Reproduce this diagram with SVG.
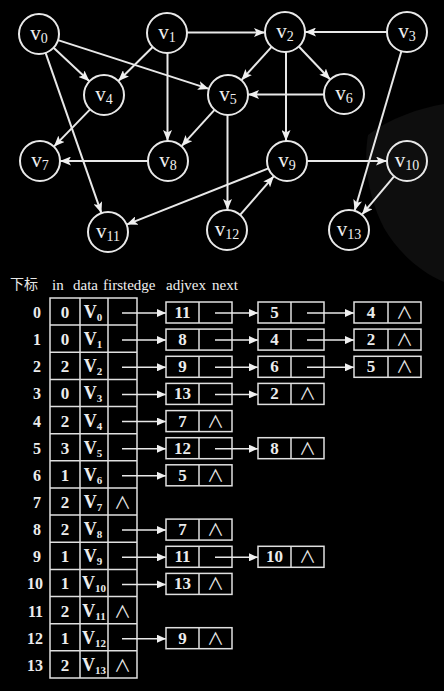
<svg xmlns="http://www.w3.org/2000/svg" width="444" height="691" viewBox="0 0 444 691">
<style>
  .bg{fill:#000}
  .nd{fill:none;stroke:#e8e8e8;stroke-width:2}
  .ed{stroke:#e8e8e8;stroke-width:2;fill:none;marker-end:url(#ah)}
  .lb{font-family:"Liberation Serif","Times New Roman",serif;font-size:21px;fill:#f0f0f0;text-anchor:middle}
  .sb{font-size:14px}
  .tx{font-family:"Liberation Serif","Times New Roman",serif;font-size:17px;font-weight:bold;fill:#ececec;text-anchor:middle}
  .ix{font-family:"Liberation Serif","Times New Roman",serif;font-size:16px;font-weight:bold;fill:#ececec;text-anchor:end}
  .hd{font-family:"Liberation Serif","Times New Roman",serif;font-size:15px;fill:#f0f0f0}
  .cj{font-family:"Noto Sans CJK SC","Liberation Serif",sans-serif;font-size:14px;fill:#e8e8e8}
  .vv{font-size:18px}
  .vs{font-size:11px}
  .nl{font-family:"Noto Sans CJK SC","DejaVu Sans",sans-serif;font-size:17px;fill:#e8e8e8;text-anchor:middle}
  .cell{fill:none;stroke:#e0e0e0;stroke-width:1.5}
  .ar{stroke:#e8e8e8;stroke-width:1.5;fill:none;marker-end:url(#ah2)}
</style>
<defs>
  <marker id="ah" markerUnits="userSpaceOnUse" markerWidth="11" markerHeight="9" refX="11" refY="4.5" orient="auto">
    <path d="M0,0 L11,4.5 L0,9 L2.5,4.5 Z" fill="#f0f0f0"/>
  </marker>
  <marker id="ah2" markerUnits="userSpaceOnUse" markerWidth="9" markerHeight="8" refX="9" refY="4" orient="auto">
    <path d="M0,0 L9,4 L0,8 Z" fill="#f0f0f0"/>
  </marker>
  <g id="null"><text class="nl" x="0" y="21">∧</text></g>
</defs>
<rect class="bg" x="0" y="0" width="444" height="691"/>
<path d="M368,135 C390,118 420,108 444,104 L444,282 C420,272 398,252 384,228 C372,205 362,170 368,135 Z" fill="#0e0e0e"/>

<g id="connectors">
  <line class="ed" x1="45.6" y1="52.9" x2="101.4" y2="213.1"/>
  <line class="ed" x1="58" y1="40.1" x2="209" y2="88.9"/>
  <line class="ed" x1="53.6" y1="47.7" x2="89.4" y2="81.3"/>
  <line class="ed" x1="167.5" y1="53" x2="167.5" y2="141"/>
  <line class="ed" x1="152.7" y1="47" x2="118.3" y2="81"/>
  <line class="ed" x1="187" y1="32.5" x2="265" y2="32.5"/>
  <line class="ed" x1="286" y1="52" x2="286" y2="141"/>
  <line class="ed" x1="298.8" y1="46.5" x2="330.2" y2="79.5"/>
  <line class="ed" x1="271.6" y1="46.8" x2="241.4" y2="80.2"/>
  <line class="ed" x1="401.4" y1="51.2" x2="354.6" y2="210.8"/>
  <line class="ed" x1="387" y1="32" x2="305" y2="32"/>
  <line class="ed" x1="90.1" y1="109.4" x2="53.9" y2="146.6"/>
  <line class="ed" x1="227.5" y1="115" x2="227.5" y2="210"/>
  <line class="ed" x1="214.5" y1="109.8" x2="181.5" y2="146.2"/>
  <line class="ed" x1="324" y1="94.5" x2="248" y2="94.5"/>
  <line class="ed" x1="148" y1="161" x2="60" y2="161"/>
  <line class="ed" x1="268.4" y1="168.4" x2="126.6" y2="224.6"/>
  <line class="ed" x1="307" y1="161" x2="387" y2="161"/>
  <line class="ed" x1="394.1" y1="176.3" x2="361.9" y2="214.7"/>
  <line class="ed" x1="240.1" y1="214.9" x2="273.9" y2="176.1"/>
</g>

<g id="v0"><circle class="nd" cx="39" cy="34" r="20"/><text class="lb" x="39" y="40">v<tspan class="sb" dy="3">0</tspan></text></g>
<g id="v1"><circle class="nd" cx="167" cy="33" r="20"/><text class="lb" x="167" y="39">v<tspan class="sb" dy="3">1</tspan></text></g>
<g id="v2"><circle class="nd" cx="285" cy="32" r="20"/><text class="lb" x="285" y="38">v<tspan class="sb" dy="3">2</tspan></text></g>
<g id="v3"><circle class="nd" cx="407" cy="32" r="20"/><text class="lb" x="407" y="38">v<tspan class="sb" dy="3">3</tspan></text></g>
<g id="v4"><circle class="nd" cx="104" cy="95" r="20"/><text class="lb" x="104" y="101">v<tspan class="sb" dy="3">4</tspan></text></g>
<g id="v5"><circle class="nd" cx="228" cy="95" r="20"/><text class="lb" x="228" y="101">v<tspan class="sb" dy="3">5</tspan></text></g>
<g id="v6"><circle class="nd" cx="344" cy="94" r="20"/><text class="lb" x="344" y="100">v<tspan class="sb" dy="3">6</tspan></text></g>
<g id="v7"><circle class="nd" cx="40" cy="161" r="20"/><text class="lb" x="40" y="167">v<tspan class="sb" dy="3">7</tspan></text></g>
<g id="v8"><circle class="nd" cx="168" cy="161" r="20"/><text class="lb" x="168" y="167">v<tspan class="sb" dy="3">8</tspan></text></g>
<g id="v9"><circle class="nd" cx="287" cy="161" r="20"/><text class="lb" x="287" y="167">v<tspan class="sb" dy="3">9</tspan></text></g>
<g id="v10"><circle class="nd" cx="407" cy="161" r="20"/><text class="lb" x="407" y="167">v<tspan class="sb" dy="3">10</tspan></text></g>
<g id="v11"><circle class="nd" cx="108" cy="232" r="20"/><text class="lb" x="108" y="238">v<tspan class="sb" dy="3">11</tspan></text></g>
<g id="v12"><circle class="nd" cx="227" cy="230" r="20"/><text class="lb" x="227" y="236">v<tspan class="sb" dy="3">12</tspan></text></g>
<g id="v13"><circle class="nd" cx="349" cy="230" r="20"/><text class="lb" x="349" y="236">v<tspan class="sb" dy="3">13</tspan></text></g>

<g id="header">
  <text class="cj" x="10" y="289">下标</text>
  <text class="hd" x="52" y="290">in</text>
  <text class="hd" x="73" y="290">data</text>
  <text class="hd" x="103" y="290">firstedge</text>
  <text class="hd" x="166" y="290">adjvex</text>
  <text class="hd" x="212" y="290">next</text>
</g>

<g id="vertex-table">
  <rect class="cell" x="50" y="298" width="87" height="380"/>
  <line class="cell" x1="80" y1="298" x2="80" y2="678"/>
  <line class="cell" x1="108" y1="298" x2="108" y2="678"/>
  <path class="cell" d="M50,325.1H137M50,352.3H137M50,379.4H137M50,406.6H137M50,433.7H137M50,460.8H137M50,488H137M50,515.1H137M50,542.3H137M50,569.4H137M50,596.5H137M50,623.7H137M50,650.8H137"/>
</g>

<g id="row0" transform="translate(0,298)">
  <text class="ix" x="41" y="20">0</text><text class="tx" x="65" y="20">0</text><text class="tx vv" x="93" y="20">V<tspan class="vs" dy="3">0</tspan></text>
  <line class="ar" x1="122" y1="15" x2="166" y2="15"/>
  <rect class="cell" x="166" y="4" width="66" height="21"/><line class="cell" x1="199" y1="4" x2="199" y2="25"/><text class="tx" x="182.5" y="20">11</text>
  <line class="ar" x1="215" y1="15" x2="258" y2="15"/>
  <rect class="cell" x="258" y="4" width="66" height="21"/><line class="cell" x1="291" y1="4" x2="291" y2="25"/><text class="tx" x="274.5" y="20">5</text>
  <line class="ar" x1="307" y1="15" x2="354" y2="15"/>
  <rect class="cell" x="354" y="4" width="67" height="21"/><line class="cell" x1="388" y1="4" x2="388" y2="25"/><text class="tx" x="371" y="20">4</text><use href="#null" x="404.5"/>
</g>
<g id="row1" transform="translate(0,325.1)">
  <text class="ix" x="41" y="20">1</text><text class="tx" x="65" y="20">0</text><text class="tx vv" x="93" y="20">V<tspan class="vs" dy="3">1</tspan></text>
  <line class="ar" x1="122" y1="15" x2="166" y2="15"/>
  <rect class="cell" x="166" y="4" width="66" height="21"/><line class="cell" x1="199" y1="4" x2="199" y2="25"/><text class="tx" x="182.5" y="20">8</text>
  <line class="ar" x1="215" y1="15" x2="258" y2="15"/>
  <rect class="cell" x="258" y="4" width="66" height="21"/><line class="cell" x1="291" y1="4" x2="291" y2="25"/><text class="tx" x="274.5" y="20">4</text>
  <line class="ar" x1="307" y1="15" x2="354" y2="15"/>
  <rect class="cell" x="354" y="4" width="67" height="21"/><line class="cell" x1="388" y1="4" x2="388" y2="25"/><text class="tx" x="371" y="20">2</text><use href="#null" x="404.5"/>
</g>
<g id="row2" transform="translate(0,352.3)">
  <text class="ix" x="41" y="20">2</text><text class="tx" x="65" y="20">2</text><text class="tx vv" x="93" y="20">V<tspan class="vs" dy="3">2</tspan></text>
  <line class="ar" x1="122" y1="15" x2="166" y2="15"/>
  <rect class="cell" x="166" y="4" width="66" height="21"/><line class="cell" x1="199" y1="4" x2="199" y2="25"/><text class="tx" x="182.5" y="20">9</text>
  <line class="ar" x1="215" y1="15" x2="258" y2="15"/>
  <rect class="cell" x="258" y="4" width="66" height="21"/><line class="cell" x1="291" y1="4" x2="291" y2="25"/><text class="tx" x="274.5" y="20">6</text>
  <line class="ar" x1="307" y1="15" x2="354" y2="15"/>
  <rect class="cell" x="354" y="4" width="67" height="21"/><line class="cell" x1="388" y1="4" x2="388" y2="25"/><text class="tx" x="371" y="20">5</text><use href="#null" x="404.5"/>
</g>
<g id="row3" transform="translate(0,379.4)">
  <text class="ix" x="41" y="20">3</text><text class="tx" x="65" y="20">0</text><text class="tx vv" x="93" y="20">V<tspan class="vs" dy="3">3</tspan></text>
  <line class="ar" x1="122" y1="15" x2="166" y2="15"/>
  <rect class="cell" x="166" y="4" width="66" height="21"/><line class="cell" x1="199" y1="4" x2="199" y2="25"/><text class="tx" x="182.5" y="20">13</text>
  <line class="ar" x1="215" y1="15" x2="258" y2="15"/>
  <rect class="cell" x="258" y="4" width="66" height="21"/><line class="cell" x1="291" y1="4" x2="291" y2="25"/><text class="tx" x="274.5" y="20">2</text><use href="#null" x="307.5"/>
</g>
<g id="row4" transform="translate(0,406.6)">
  <text class="ix" x="41" y="20">4</text><text class="tx" x="65" y="20">2</text><text class="tx vv" x="93" y="20">V<tspan class="vs" dy="3">4</tspan></text>
  <line class="ar" x1="122" y1="15" x2="166" y2="15"/>
  <rect class="cell" x="166" y="4" width="66" height="21"/><line class="cell" x1="199" y1="4" x2="199" y2="25"/><text class="tx" x="182.5" y="20">7</text><use href="#null" x="215.5"/>
</g>
<g id="row5" transform="translate(0,433.7)">
  <text class="ix" x="41" y="20">5</text><text class="tx" x="65" y="20">3</text><text class="tx vv" x="93" y="20">V<tspan class="vs" dy="3">5</tspan></text>
  <line class="ar" x1="122" y1="15" x2="166" y2="15"/>
  <rect class="cell" x="166" y="4" width="66" height="21"/><line class="cell" x1="199" y1="4" x2="199" y2="25"/><text class="tx" x="182.5" y="20">12</text>
  <line class="ar" x1="215" y1="15" x2="258" y2="15"/>
  <rect class="cell" x="258" y="4" width="66" height="21"/><line class="cell" x1="291" y1="4" x2="291" y2="25"/><text class="tx" x="274.5" y="20">8</text><use href="#null" x="307.5"/>
</g>
<g id="row6" transform="translate(0,460.8)">
  <text class="ix" x="41" y="20">6</text><text class="tx" x="65" y="20">1</text><text class="tx vv" x="93" y="20">V<tspan class="vs" dy="3">6</tspan></text>
  <line class="ar" x1="122" y1="15" x2="166" y2="15"/>
  <rect class="cell" x="166" y="4" width="66" height="21"/><line class="cell" x1="199" y1="4" x2="199" y2="25"/><text class="tx" x="182.5" y="20">5</text><use href="#null" x="215.5"/>
</g>
<g id="row7" transform="translate(0,488)">
  <text class="ix" x="41" y="20">7</text><text class="tx" x="65" y="20">2</text><text class="tx vv" x="93" y="20">V<tspan class="vs" dy="3">7</tspan></text>
  <use href="#null" x="122.5"/>
</g>
<g id="row8" transform="translate(0,515.1)">
  <text class="ix" x="41" y="20">8</text><text class="tx" x="65" y="20">2</text><text class="tx vv" x="93" y="20">V<tspan class="vs" dy="3">8</tspan></text>
  <line class="ar" x1="122" y1="15" x2="166" y2="15"/>
  <rect class="cell" x="166" y="4" width="66" height="21"/><line class="cell" x1="199" y1="4" x2="199" y2="25"/><text class="tx" x="182.5" y="20">7</text><use href="#null" x="215.5"/>
</g>
<g id="row9" transform="translate(0,542.3)">
  <text class="ix" x="41" y="20">9</text><text class="tx" x="65" y="20">1</text><text class="tx vv" x="93" y="20">V<tspan class="vs" dy="3">9</tspan></text>
  <line class="ar" x1="122" y1="15" x2="166" y2="15"/>
  <rect class="cell" x="166" y="4" width="66" height="21"/><line class="cell" x1="199" y1="4" x2="199" y2="25"/><text class="tx" x="182.5" y="20">11</text>
  <line class="ar" x1="215" y1="15" x2="258" y2="15"/>
  <rect class="cell" x="258" y="4" width="66" height="21"/><line class="cell" x1="291" y1="4" x2="291" y2="25"/><text class="tx" x="274.5" y="20">10</text><use href="#null" x="307.5"/>
</g>
<g id="row10" transform="translate(0,569.4)">
  <text class="ix" x="43" y="20">10</text><text class="tx" x="65" y="20">1</text><text class="tx vv" x="94" y="20">V<tspan class="vs" dy="3">10</tspan></text>
  <line class="ar" x1="122" y1="15" x2="166" y2="15"/>
  <rect class="cell" x="166" y="4" width="66" height="21"/><line class="cell" x1="199" y1="4" x2="199" y2="25"/><text class="tx" x="182.5" y="20">13</text><use href="#null" x="215.5"/>
</g>
<g id="row11" transform="translate(0,596.5)">
  <text class="ix" x="43" y="20">11</text><text class="tx" x="65" y="20">2</text><text class="tx vv" x="94" y="20">V<tspan class="vs" dy="3">11</tspan></text>
  <use href="#null" x="122.5"/>
</g>
<g id="row12" transform="translate(0,623.7)">
  <text class="ix" x="43" y="20">12</text><text class="tx" x="65" y="20">1</text><text class="tx vv" x="94" y="20">V<tspan class="vs" dy="3">12</tspan></text>
  <line class="ar" x1="122" y1="15" x2="166" y2="15"/>
  <rect class="cell" x="166" y="4" width="66" height="21"/><line class="cell" x1="199" y1="4" x2="199" y2="25"/><text class="tx" x="182.5" y="20">9</text><use href="#null" x="215.5"/>
</g>
<g id="row13" transform="translate(0,650.8)">
  <text class="ix" x="43" y="20">13</text><text class="tx" x="65" y="20">2</text><text class="tx vv" x="94" y="20">V<tspan class="vs" dy="3">13</tspan></text>
  <use href="#null" x="122.5"/>
</g>
</svg>
